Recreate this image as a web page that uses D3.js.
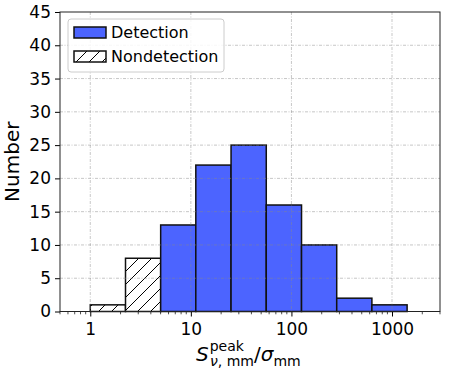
<!DOCTYPE html>
<html>
<head>
<meta charset="utf-8">
<script src="https://cdn.jsdelivr.net/npm/d3@7"></script>
<style>
  body { margin: 0; background: #fff; }
  svg { font-family: "DejaVu Sans", sans-serif; }
</style>
</head>
<body>
<div id="chart"></div>
<script>
// bin edges (log spaced), counts per bin
var binEdges = [1, 2.24, 5.01, 11.2, 25.1, 56.2, 126, 282, 631, 1413];
var detection = [0, 0, 13, 22, 25, 16, 10, 2, 1];
var nondetection = [1, 8, 0, 0, 0, 0, 0, 0, 0];
var xTicks = [1, 10, 100, 1000];
var yTicks = [0, 5, 10, 15, 20, 25, 30, 35, 40, 45];
var legendLabels = ["Detection", "Nondetection"];

var W = 463, H = 371;
var margin = {top: 12, right: 23, bottom: 59.5, left: 60};
var width = W - margin.left - margin.right;
var height = H - margin.top - margin.bottom;
var blue = "#4c64ff";

var svg = d3.select("#chart").append("svg")
  .attr("width", W)
  .attr("height", H);

var defs = svg.append("defs");
var hatch = defs.append("pattern")
  .attr("id", "hatch")
  .attr("patternUnits", "userSpaceOnUse")
  .attr("width", 13).attr("height", 13);
hatch.append("rect").attr("width", 13).attr("height", 13).attr("fill", "#fff");
hatch.append("path")
  .attr("d", "M-3,3 L3,-3 M0,13 L13,0 M10,16 L16,10")
  .attr("stroke", "#000").attr("stroke-width", 1);

var g = svg.append("g").attr("transform", "translate(" + margin.left + "," + margin.top + ")");

var x = d3.scaleLog().domain([0.5, 3000]).range([0, width]);
var y = d3.scaleLinear().domain([0, 45]).range([height, 0]);

// bars
function bars(data, fill) {
  g.append("g").selectAll("rect")
    .data(data.map(function(v, i) { return {v: v, x0: binEdges[i], x1: binEdges[i + 1]}; })
      .filter(function(d) { return d.v > 0; }))
    .enter().append("rect")
      .attr("x", function(d) { return x(d.x0); })
      .attr("width", function(d) { return x(d.x1) - x(d.x0); })
      .attr("y", function(d) { return y(d.v); })
      .attr("height", function(d) { return y(0) - y(d.v); })
      .attr("fill", fill)
      .attr("stroke", "#111")
      .attr("stroke-width", 1.5);
}
bars(nondetection, "url(#hatch)");
bars(detection, blue);

// grid on top
var grid = g.append("g").attr("stroke", "#888").attr("stroke-opacity", 0.6)
  .attr("stroke-width", 0.8).attr("stroke-dasharray", "3,1.5,1,1.5");
grid.selectAll(".gx").data(xTicks).enter().append("line")
  .attr("x1", function(d) { return x(d); }).attr("x2", function(d) { return x(d); })
  .attr("y1", 0).attr("y2", height);
grid.selectAll(".gy").data(yTicks.slice(1, -1)).enter().append("line")
  .attr("y1", function(d) { return y(d); }).attr("y2", function(d) { return y(d); })
  .attr("x1", 0).attr("x2", width);

// axes
var xAxis = g.append("g").attr("transform", "translate(0," + height + ")")
  .call(d3.axisBottom(x).tickValues(xTicks).tickFormat(d3.format("d")).tickSize(5).tickPadding(6));
var minor = [];
[0.1, 1, 10, 100, 1000].forEach(function(dec) {
  for (var k = 2; k <= 9; k++) {
    var v = dec * k;
    if (v >= 0.5 && v <= 3000) minor.push(v);
  }
});
g.append("g").attr("transform", "translate(0," + height + ")")
  .selectAll("line").data(minor).enter().append("line")
  .attr("x1", function(d) { return x(d); }).attr("x2", function(d) { return x(d); })
  .attr("y1", 0).attr("y2", 2.8).attr("stroke", "#000").attr("stroke-width", 0.7);

var yAxis = g.append("g")
  .call(d3.axisLeft(y).tickValues(yTicks).tickSize(5).tickPadding(4));

[xAxis, yAxis].forEach(function(a) {
  a.select(".domain").remove();
  a.selectAll(".tick line").attr("stroke", "#000").attr("stroke-width", 1);
  a.selectAll(".tick text").attr("font-size", "17px").attr("fill", "#000")
    .attr("font-family", "DejaVu Sans");
});

// frame
g.append("rect").attr("width", width).attr("height", height)
  .attr("fill", "none").attr("stroke", "#222").attr("stroke-width", 1);

// axis labels
svg.append("text")
  .attr("transform", "translate(19," + (margin.top + height / 2) + ") rotate(-90)")
  .attr("text-anchor", "middle").attr("font-size", "20px").text("Number");

var xl = svg.append("text").attr("x", 196).attr("y", 361).attr("font-size", "20px");
xl.append("tspan").attr("font-style", "italic").text("S");
xl.append("tspan").attr("font-size", "14px").attr("dy", -10).attr("dx", 1).text("peak");
xl.append("tspan").attr("font-size", "14px").attr("x", 210).attr("dy", 15).attr("font-style", "italic").text("ν");
xl.append("tspan").attr("font-size", "14px").text(", mm");
xl.append("tspan").attr("dy", -5).text("/");
xl.append("tspan").attr("font-style", "italic").text("σ");
xl.append("tspan").attr("font-size", "14px").attr("dy", 5).text("mm");

// legend
var lg = svg.append("g").attr("transform", "translate(68,19)");
lg.append("rect").attr("width", 156).attr("height", 53).attr("rx", 3)
  .attr("fill", "#fff").attr("fill-opacity", 0.85).attr("stroke", "#ccc").attr("stroke-width", 1);
var fills = [blue, "url(#hatch)"];
legendLabels.forEach(function(name, i) {
  var row = lg.append("g").attr("transform", "translate(6," + (8 + i * 24) + ")");
  row.append("rect").attr("width", 32).attr("height", 11)
    .attr("fill", fills[i]).attr("stroke", "#111").attr("stroke-width", 1.5);
  row.append("text").attr("x", 37).attr("y", 11).attr("font-size", "16px").text(name);
});
</script>
</body>
</html>
